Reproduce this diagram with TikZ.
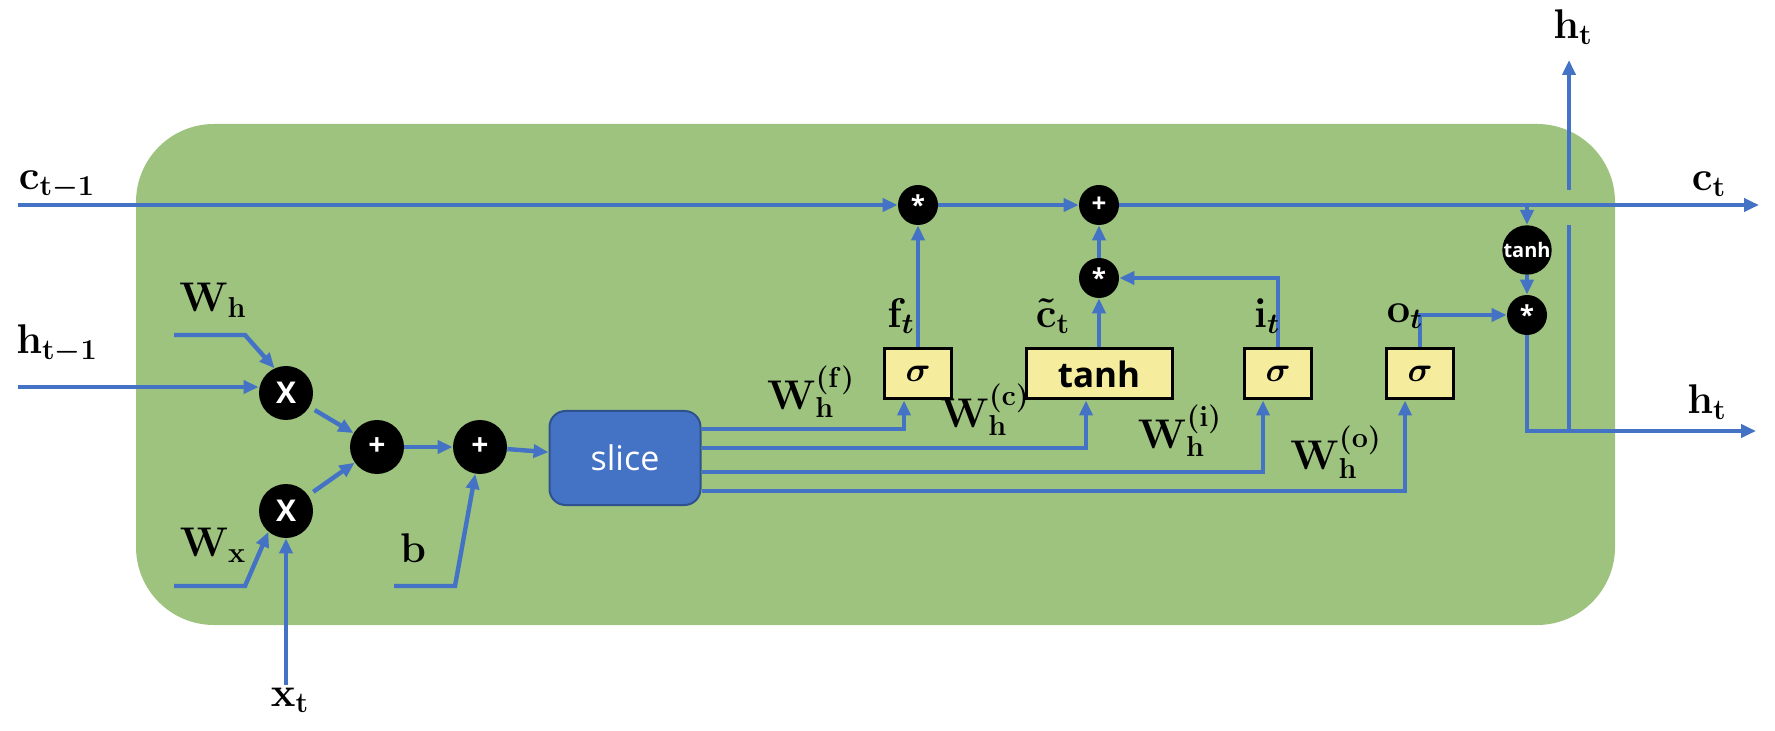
\documentclass[tikz,border=0pt]{standalone}
\usepackage{fontspec}
\newfontfamily\gatefont{Open Sans}
\usepackage{tikz}
\usetikzlibrary{positioning,arrows.meta,calc}
\definecolor{cellgreen}{RGB}{157,195,127}
\definecolor{wireblue}{RGB}{68,114,196}
\definecolor{slicerim}{RGB}{47,82,143}
\definecolor{gateyellow}{RGB}{245,236,158}

\begin{document}
\begin{tikzpicture}[x=0.5pt, y=-0.5pt,
    wire/.style={draw=wireblue, line width=2.2pt},
    arr/.style={wire, -{Triangle[length=7.5pt,width=6.5pt]}},
    opnode/.style={circle, fill=black, text=white, inner sep=0pt, minimum size=27pt,
        font=\gatefont\bfseries\fontsize{15}{15}\selectfont},
    smallop/.style={opnode, minimum size=20pt, font=\gatefont\bfseries\fontsize{13}{13}\selectfont},
    gatebox/.style={draw=black, line width=1.5pt, fill=gateyellow, minimum height=25pt,
        minimum width=33.5pt, inner sep=0pt, font=\fontsize{19}{22}\selectfont\boldmath},
    slicebox/.style={draw=slicerim, line width=1pt, fill=wireblue, rounded corners=8pt,
        minimum width=75.5pt, minimum height=47pt, text=white,
        font=\gatefont\fontsize{17}{18}\selectfont},
    lbl/.style={inner sep=0pt, font=\fontsize{19.5}{22}\selectfont\boldmath}]
    \useasboundingbox (0,0) rectangle (1775,731);

    % cell body
    \fill[cellgreen, rounded corners=39pt] (136,124) rectangle (1615,625);

    % operators and gates
    \node[opnode] (gx1) at (286,393) {X};
    \node[opnode] (gx2) at (286,511) {X};
    \node[opnode] (add1) at (377,447) {+};
    \node[opnode] (add2) at (480,447) {+};
    \node[slicebox] (slice) at (625,458) {slice};
    \node[smallop] (mulf) at (918,205) {*};
    \node[smallop] (addc) at (1099,205) {+};
    \node[smallop] (muli) at (1099,278) {*};
    \node[gatebox] (sigf) at (918,374) {$\sigma$};
    \node[gatebox, minimum width=73pt, font=\gatefont\bfseries\fontsize{17.5}{20}\selectfont] (tanhg) at (1099,374) {tanh};
    \node[gatebox] (sigi) at (1278,374) {$\sigma$};
    \node[gatebox] (sigo) at (1420,374) {$\sigma$};
    \node[opnode, minimum size=23.5pt, font=\gatefont\bfseries\fontsize{10}{10}\selectfont] (tanhc) at (1527,250) {tanh};
    \node[smallop] (mulo) at (1527,315) {*};

    % free ends
    \coordinate (cin) at (18,205);
    \coordinate (cout) at (1759,205);
    \coordinate (hin) at (18,387);
    \coordinate (hout) at (1756,431);
    \coordinate (hup) at (1569,431);
    \coordinate (gaplo) at (1569,225);
    \coordinate (gaphi) at (1569,190);
    \coordinate (htop) at (1569,60);
    \coordinate (wh0) at (174,335);
    \coordinate (wh1) at (245,335);
    \coordinate (wx0) at (174,586);
    \coordinate (wx1) at (245,586);
    \coordinate (xin) at (286,685);
    \coordinate (b0) at (394,586);
    \coordinate (b1) at (455,586);

    % cell state path
    \draw[arr] (cin) -- (mulf);
    \draw[arr] (mulf) -- (addc);
    \draw[arr] (addc) -- (cout);
    \draw[arr] (tanhc |- addc) -- (tanhc);
    \draw[arr] (tanhc) -- (mulo);
    \draw[arr] (mulo) |- (hout);
    \draw[wire] (hup) -- (gaplo);
    \draw[arr] (gaphi) -- (htop);

    % inputs
    \draw[arr] (hin) -- (hin -| gx1.west);
    \draw[arr] (wh0) -- (wh1) -- (gx1.115);
    \draw[arr] (wx0) -- (wx1) -- (gx2.230);
    \draw[arr] (xin) -- (gx2);
    \draw[arr, shorten <=3pt] (gx1) -- (add1);
    \draw[arr, shorten <=3pt] (gx2) -- (add1);
    \draw[arr] (add1) -- (add2);
    \draw[arr] (add2) -- (slice);
    \draw[arr] (b0) -- (b1) -- (add2.260);

    % slice outputs
    \draw[arr] ([yshift=14.5pt]slice.east) -| ([xshift=-7pt]sigf.south);
    \draw[arr] ([yshift=5pt]slice.east) -| ([xshift=-6.5pt]tanhg.south);
    \draw[arr] ([yshift=-7pt]slice.east) -| ([xshift=-7.5pt]sigi.south);
    \draw[arr] ([yshift=-16.5pt]slice.east) -| ([xshift=-7.5pt]sigo.south);

    % gate outputs
    \draw[arr] (sigf) -- (mulf);
    \draw[arr] (tanhg) -- (muli);
    \draw[arr] (muli) -- (addc);
    \draw[arr] (sigi.north) |- (muli);
    \draw[arr] (sigo.north) |- (mulo);

    % labels
    \node[lbl] (lcin) at (57,185) {$\mathbf{c}_{\mathbf{t-1}}$};
    \node[lbl] (lhin) at (57,344) {$\mathbf{h}_{\mathbf{t-1}}$};
    \node[lbl] (lwh) at (213,300) {$\mathbf{W}_{\mathbf{h}}$};
    \node[lbl] (lwx) at (213,545) {$\mathbf{W}_{\mathbf{x}}$};
    \node[lbl] (lxt) at (290,700) {$\mathbf{x}_{\mathbf{t}}$};
    \node[lbl] (lb) at (413,548) {$\mathbf{b}$};
    \node[lbl] (lft) at (901,316) {$\mathbf{f}_{t}$};
    \node[lbl] (lct) at (1053,316) {$\tilde{\mathbf{c}}_{\mathbf{t}}$};
    \node[lbl] (lit) at (1267,316) {$\mathbf{i}_{t}$};
    \node[lbl] (lot) at (1405,316) {$\mathbf{o}_{t}$};
    \node[lbl] (lwf) at (811,392) {$\mathbf{W}_{\mathbf{h}}^{(\mathbf{f})}$};
    \node[lbl] (lwc) at (985,410) {$\mathbf{W}_{\mathbf{h}}^{(\mathbf{c})}$};
    \node[lbl] (lwi) at (1180,431) {$\mathbf{W}_{\mathbf{h}}^{(\mathbf{i})}$};
    \node[lbl] (lwo) at (1336,452) {$\mathbf{W}_{\mathbf{h}}^{(\mathbf{o})}$};
    \node[lbl] (lctout) at (1709,184) {$\mathbf{c}_{\mathbf{t}}$};
    \node[lbl] (lhtout) at (1707,402) {$\mathbf{h}_{\mathbf{t}}$};
    \node[lbl] (lhtop) at (1573,27) {$\mathbf{h}_{\mathbf{t}}$};
\end{tikzpicture}
\end{document}
